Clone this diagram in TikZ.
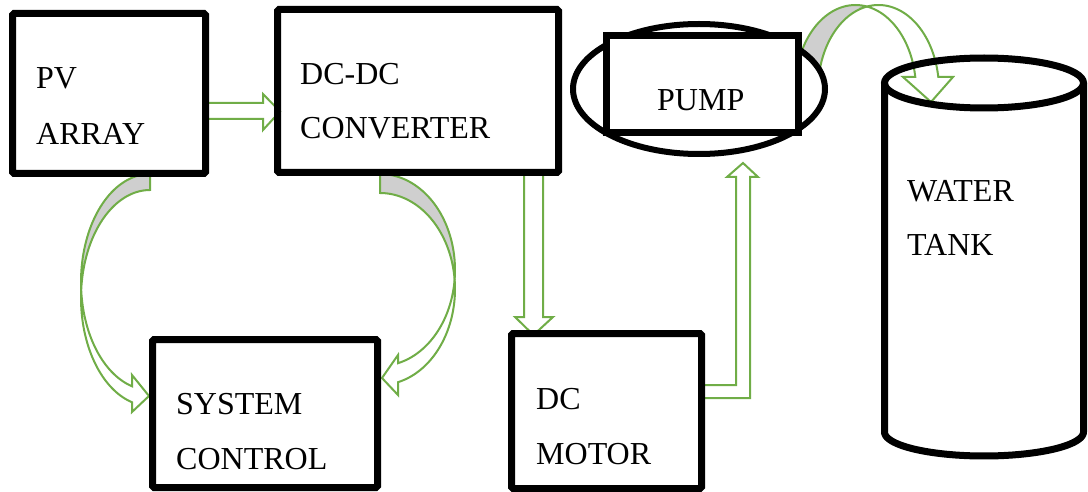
\documentclass[tikz,border=0pt]{standalone}
\usepackage{fontspec}
\setmainfont{Liberation Serif}
\usetikzlibrary{shapes.geometric}
\definecolor{ag}{HTML}{70AD47}
\definecolor{bk}{HTML}{CFCFCF}
\begin{document}
\begin{tikzpicture}[x=1pt,y=-1pt,
  box/.style={draw=black, line width=7pt, rounded corners=1.5pt, inner sep=0pt},
  lbl/.style={anchor=base west, inner sep=0pt, font=\fontsize{32}{38}\selectfont},
  arr/.style={draw=ag, line width=2pt, fill=white, line join=miter},
  back/.style={draw=ag, line width=2pt, fill=bk, line join=miter}]
\useasboundingbox (0,0) rectangle (1088,492);

% ---- straight block arrows
\draw[arr] (207,103) -- (263,103) -- (263,94) -- (280,111.5) -- (263,130) -- (263,119) -- (207,119) -- cycle;
\draw[arr] (524,173) -- (524,317) -- (515,317) -- (533.5,335) -- (553,317) -- (543,317) -- (543,173) -- cycle;
\draw[arr] (703,385) -- (736,385) -- (736,177) -- (727,177) -- (743,163) -- (758,177) -- (750,177) -- (750,398) -- (703,398) -- cycle;

% ---- curved arrow PV -> system control
\draw[back] plot[domain=270:175.75,samples=40,variable=\t] ({150+69*cos(\t)},{282+108*sin(\t)})
  -- plot[domain=184.25:270,samples=40,variable=\t] ({150+69*cos(\t)},{298+108*sin(\t)}) -- cycle;
\draw[arr] plot[domain=175.75:105.1,samples=40,variable=\t] ({150+69*cos(\t)},{282+108*sin(\t)})
  -- (132,375) -- (149,396) -- (132,412)
  -- plot[domain=105.1:184.25,samples=40,variable=\t] ({150+69*cos(\t)},{298+108*sin(\t)}) -- cycle;

% ---- curved arrow DC-DC -> system control
\draw[back] plot[domain=270:365.68,samples=40,variable=\t] ({380+75*cos(\t)},{270+96*sin(\t)})
  -- plot[domain=354.32:270,samples=40,variable=\t] ({380+75*cos(\t)},{289+96*sin(\t)}) -- cycle;
\draw[arr] plot[domain=5.68:76.1,samples=40,variable=\t] ({380+75*cos(\t)},{270+96*sin(\t)})
  -- (398,355) -- (382,378) -- (398,395)
  -- plot[domain=76.1:-5.68,samples=40,variable=\t] ({380+75*cos(\t)},{289+96*sin(\t)}) -- cycle;

% ---- curved arrow pump -> tank
\draw[back] plot[domain=281:173.2,samples=40,variable=\t] ({855.5+60.5*cos(\t)},{90+85*sin(\t)})
  -- plot[domain=173.2:259,samples=40,variable=\t] ({878.5+60.5*cos(\t)},{90+85*sin(\t)}) -- cycle;
\draw[arr] plot[domain=259:351.2,samples=40,variable=\t] ({878.5+60.5*cos(\t)},{90+85*sin(\t)})
  -- (953,77) -- (931,102) -- (903,77)
  -- plot[domain=351.2:281,samples=40,variable=\t] ({855.5+60.5*cos(\t)},{90+85*sin(\t)}) -- cycle;

% ---- boxes
\node[box, minimum width=193pt, minimum height=160pt] (pv) at (109,93.5) {};
\node[box, minimum width=281pt, minimum height=163pt] (dcdc) at (418,91) {};
\node[box, minimum width=225pt, minimum height=148pt] (sc) at (265,413.5) {};
\node[box, minimum width=190pt, minimum height=155pt] (motor) at (606.5,411) {};
\node[draw=black, line width=6pt, fill=white, ellipse, inner sep=0pt, minimum width=252pt, minimum height=130pt] (pumpell) at (699,89) {};
\node[draw=black, line width=7pt, fill=white, inner sep=0pt, minimum width=192pt, minimum height=97pt] (pump) at (702,84.5) {};

% ---- tank
\draw[line width=7pt] (984,83) ellipse [x radius=99.5, y radius=25];
\draw[line width=7pt, line join=round] (884.5,83) -- plot[domain=180:0,samples=60,variable=\t] ({984+99.5*cos(\t)},{432+24*sin(\t)}) -- (1083.5,83);

% ---- labels
\node[lbl] (t1) at (36,89) {PV};
\node[lbl] (t2) at (36,145) {ARRAY};
\node[lbl] (t3) at (300,85) {DC-DC};
\node[lbl] (t4) at (300,139) {CONVERTER};
\node[lbl] (t5) at (657,111) {PUMP};
\node[lbl] (t6) at (907,201) {WATER};
\node[lbl] (t7) at (907,255) {TANK};
\node[lbl] (t8) at (176,414) {SYSTEM};
\node[lbl] (t9) at (176,469) {CONTROL};
\node[lbl] (t10) at (536,409) {DC};
\node[lbl] (t11) at (536,464) {MOTOR};
\end{tikzpicture}
\end{document}
